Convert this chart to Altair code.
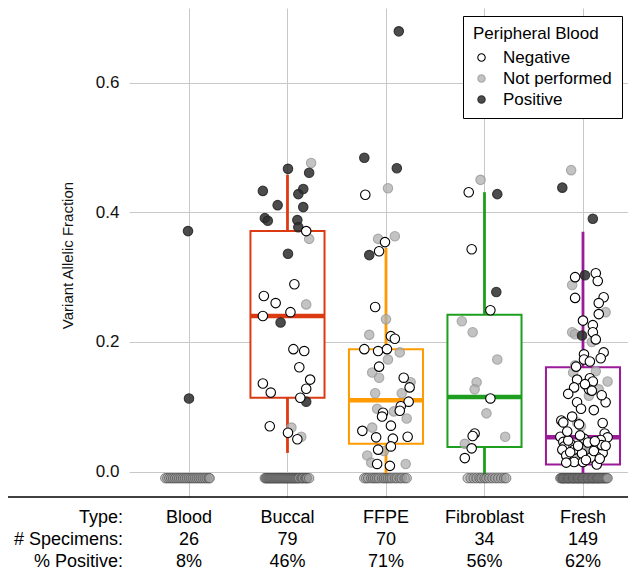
import altair as alt
import pandas as pd

# ---------------- data ----------------
categories = ["Blood", "Buccal", "FFPE", "Fibroblast", "Fresh"]
n_specimens = ["26", "79", "70", "34", "149"]
pct_positive = ["8%", "46%", "71%", "56%", "62%"]
row_labels = ["Type:", "# Specimens:", "% Positive:"]
status_names = ["Negative", "Not performed", "Positive"]

undetected_vaf = -0.01  # specimens with no variant detected

# detected variants: [jitter offset from category centre, VAF]
blood_pos = [[-0.01, 0.371], [0.00, 0.113]]
blood_np = []
blood_neg = []

buccal_pos = [[0.005, 0.467], [0.22, 0.461], [-0.25, 0.433], [0.16, 0.436], [0.11, 0.428],
              [-0.10, 0.411], [0.16, 0.408], [-0.23, 0.391], [-0.20, 0.387], [0.10, 0.388],
              [0.11, 0.377], [0.005, 0.336], [-0.07, 0.230], [0.19, 0.108]]
buccal_np = [[0.24, 0.476], [0.22, 0.359], [0.19, 0.258], [0.04, 0.068], [0.14, 0.054]]
buccal_neg = [[0.19, 0.371], [0.07, 0.289], [-0.24, 0.271], [-0.12, 0.260], [0.03, 0.246],
              [-0.25, 0.240], [0.06, 0.189], [0.17, 0.186], [0.12, 0.161], [0.23, 0.142],
              [-0.25, 0.136], [0.19, 0.128], [-0.17, 0.122], [0.13, 0.114], [-0.18, 0.070],
              [0.005, 0.060], [0.10, 0.050]]

ffpe_pos = [[0.13, 0.679], [-0.22, 0.484], [0.11, 0.468], [-0.17, 0.334]]
ffpe_np = [[0.02, 0.437], [0.09, 0.363], [-0.08, 0.359], [0.00, 0.235], [-0.17, 0.211],
           [0.14, 0.184], [0.02, 0.173], [-0.14, 0.153], [-0.07, 0.145], [0.25, 0.138],
           [-0.11, 0.121], [0.16, 0.121], [-0.09, 0.097], [0.08, 0.093], [0.21, 0.082],
           [-0.14, 0.068], [-0.02, 0.032], [-0.19, 0.025], [-0.15, 0.014], [0.20, 0.012]]
ffpe_neg = [[-0.21, 0.427], [-0.01, 0.354], [-0.07, 0.340], [-0.11, 0.254], [0.05, 0.209],
            [0.09, 0.205], [-0.22, 0.189], [-0.08, 0.186], [0.01, 0.189], [-0.07, 0.162],
            [0.18, 0.145], [0.24, 0.130], [0.23, 0.108], [0.15, 0.101], [0.14, 0.094],
            [-0.03, 0.091], [-0.04, 0.085], [0.05, 0.071], [-0.24, 0.063], [0.22, 0.054],
            [-0.10, 0.053], [0.07, 0.051], [0.05, 0.039], [-0.08, 0.034], [-0.09, 0.012],
            [0.04, 0.009]]

fibro_pos = [[0.13, 0.428], [0.12, 0.277]]
fibro_np = [[-0.04, 0.450], [-0.23, 0.232], [-0.12, 0.215], [0.13, 0.173], [-0.08, 0.138],
            [-0.10, 0.127], [0.02, 0.090], [0.21, 0.054], [-0.20, 0.043]]
fibro_neg = [[-0.16, 0.431], [-0.13, 0.343], [0.06, 0.249], [0.06, 0.113], [-0.10, 0.059],
             [-0.12, 0.055], [-0.13, 0.036], [-0.20, 0.021]]

fresh_pos = [[-0.21, 0.438], [0.10, 0.390], [0.02, 0.303], [-0.01, 0.210]]
fresh_np = [[-0.12, 0.465], [-0.11, 0.288], [0.23, 0.246], [-0.11, 0.215], [-0.08, 0.212],
            [0.09, 0.200], [-0.08, 0.164], [-0.10, 0.153], [0.13, 0.155], [0.25, 0.139],
            [0.16, 0.127], [0.06, 0.117], [-0.06, 0.076], [-0.02, 0.070], [0.00, 0.034],
            [0.07, 0.036], [-0.08, 0.023], [0.04, 0.030], [0.09, 0.026], [0.15, 0.045],
            [-0.04, 0.018]]
fresh_neg = [[0.13, 0.306], [-0.08, 0.300], [0.15, 0.294], [-0.08, 0.268], [0.21, 0.269],
             [0.16, 0.260], [0.16, 0.243], [0.00, 0.233], [0.10, 0.226], [0.10, 0.215],
             [0.13, 0.204], [0.21, 0.184], [0.01, 0.181], [0.01, 0.173], [0.18, 0.175],
             [-0.06, 0.142], [0.07, 0.144], [0.10, 0.139], [-0.09, 0.130], [0.06, 0.127],
             [0.09, 0.125], [-0.06, 0.107], [0.23, 0.107], [-0.02, 0.097], [-0.22, 0.079],
             [-0.20, 0.076], [-0.04, 0.073], [0.22, 0.059], [0.25, 0.053], [-0.23, 0.054],
             [0.01, 0.051], [0.18, 0.049], [-0.20, 0.046], [-0.12, 0.042], [-0.19, 0.039],
             [-0.21, 0.034], [0.15, 0.037], [-0.09, 0.034], [-0.01, 0.028], [0.20, 0.029],
             [-0.17, 0.025], [0.14, 0.023], [0.08, 0.022], [-0.09, 0.015], [-0.17, 0.014],
             [0.00, 0.015], [0.14, 0.011], [-0.15, 0.048], [-0.05, 0.040], [0.05, 0.045],
             [0.11, 0.032], [-0.13, 0.030], [0.17, 0.020], [0.03, 0.018], [0.19, 0.041],
             [-0.03, 0.056], [0.12, 0.047], [-0.16, 0.062], [0.23, 0.040], [-0.07, 0.162],
             [0.07, 0.170], [0.19, 0.118], [0.02, 0.135], [0.11, 0.095], [-0.11, 0.085],
             [0.20, 0.075], [-0.15, 0.120]]

# undetected specimens: jitter offsets (hundredths of a category step)
blood_zero = [-24, -22, -20, -18, -16, -14, -12, -10, -8, -6, -4, -2, 0, 2, 4, 6, 8, 10,
              12, 14, 16, 18, 20, 21]
buccal_zero = [-23, -22, -21, -20, -19, -18, -17, -16, -15, -14, -13, -12, -11, -10, -9,
               -8, -7, -6, -5, -4, -3, -2, -1, 0, 1, 2, 3, 4, 5, 6, 7, 8, 9, 10, 11, 12,
               14, 15, 16, 18, 19, 20, 22]
ffpe_zero = [-22, -20, -18, -15, -13, -11, -9, -7, -4, -2, 0, 2, 4, 6, 9, 11, 14, 16, 19, 21]
fibro_zero = [-17, -14, -11, -8, -5, -3, 0, 2, 5, 8, 11, 14, 17, 20, 22]
fresh_zero = [-23, -22, -21, -20, -20, -19, -18, -17, -16, -15, -15, -14, -13, -12, -11,
              -10, -10, -9, -8, -7, -6, -5, -5, -4, -3, -2, -1, 0, 0, 1, 2, 3, 4, 5, 5,
              6, 7, 8, 9, 10, 10, 11, 12, 13, 14, 15, 15, 16, 17, 18, 19, 20, 21, 22,
              23, 24, 25]

# box-plot statistics (whisker low, Q1, median, Q3, whisker high)
box_cats = ["Buccal", "FFPE", "Fibroblast", "Fresh"]
box_low = [0.029, -0.012, -0.008, -0.010]
box_q1 = [0.114, 0.043, 0.038, 0.011]
box_med = [0.240, 0.110, 0.115, 0.053]
box_q3 = [0.371, 0.189, 0.242, 0.161]
box_high = [0.458, 0.345, 0.431, 0.370]
box_colors = ["#DC3A12", "#FF9A00", "#1E9E1E", "#9A1A9A"]

# ---------------- build tables ----------------
groups = {
    "Blood": (blood_np, blood_pos, blood_neg, blood_zero),
    "Buccal": (buccal_np, buccal_pos, buccal_neg, buccal_zero),
    "FFPE": (ffpe_np, ffpe_pos, ffpe_neg, ffpe_zero),
    "Fibroblast": (fibro_np, fibro_pos, fibro_neg, fibro_zero),
    "Fresh": (fresh_np, fresh_pos, fresh_neg, fresh_zero),
}
pts, zeros = [], []
for ci, cat in enumerate(categories):
    np_, pos, neg, zr = groups[cat]
    for status, lst in (("Not performed", np_), ("Positive", pos), ("Negative", neg)):
        for dx, v in lst:
            pts.append({"x": ci + dx, "vaf": v, "status": status})
    for d in zr:
        zeros.append({"x": ci + d / 100.0, "vaf": undetected_vaf})
pts_df = pd.DataFrame(pts)
zero_df = pd.DataFrame(zeros)

box_df = pd.DataFrame({
    "idx": [categories.index(c) for c in box_cats],
    "lo": box_low, "q1": box_q1, "med": box_med, "q3": box_q3, "hi": box_high,
    "color": box_colors,
})

HALF = 0.376
XDOM = [-0.609, 4.457]
YDOM = [-0.039, 0.715]
W, H = 499, 489


def xenc(field):
    return alt.X(field, scale=alt.Scale(domain=XDOM, nice=False, zero=False),
                 axis=alt.Axis(values=[0, 1, 2, 3, 4], grid=True, labels=False,
                               ticks=False, domain=False, title=None))


def yenc(field):
    return alt.Y(field, scale=alt.Scale(domain=YDOM, nice=False, zero=False),
                 axis=alt.Axis(values=[0, 0.2, 0.4, 0.6], format=".1f", grid=True,
                               ticks=False, tickSize=0, domain=False, labelPadding=10,
                               labelFontSize=17, labelColor="#111111",
                               title="Variant Allelic Fraction", titleFontSize=15,
                               titleFont="Liberation Sans Narrow, Liberation Sans, sans-serif",
                               titleFontWeight="normal", titleColor="#111111",
                               titleX=-62, titleY=247, titleAngle=270,
                               titleBaseline="middle", titleAlign="center"))


base_box = alt.Chart(box_df).transform_calculate(
    xl=f"datum.idx - {HALF}", xr=f"datum.idx + {HALF}")

boxes = base_box.mark_rect(fill="white", strokeWidth=2).encode(
    x=xenc("xl:Q"), x2="xr:Q", y=yenc("q1:Q"), y2="q3:Q",
    stroke=alt.Stroke("color:N", scale=None))
whisk_lo = base_box.mark_rule(strokeWidth=2.8).encode(
    x=xenc("idx:Q"), y=yenc("lo:Q"), y2="q1:Q", stroke=alt.Stroke("color:N", scale=None))
whisk_hi = base_box.mark_rule(strokeWidth=2.8).encode(
    x=xenc("idx:Q"), y=yenc("q3:Q"), y2="hi:Q", stroke=alt.Stroke("color:N", scale=None))
medians = base_box.mark_rule(strokeWidth=4.5).encode(
    x=xenc("xl:Q"), x2="xr:Q", y=yenc("med:Q"), stroke=alt.Stroke("color:N", scale=None))

zero_pts = alt.Chart(zero_df).mark_circle(
    size=90, fill="#9a9a9a", fillOpacity=0.5, stroke="#444444", strokeOpacity=0.6,
    strokeWidth=1, opacity=1).encode(x=xenc("x:Q"), y=yenc("vaf:Q"))

leg = alt.Legend(orient="none", legendX=334, legendY=8, title="Peripheral Blood",
                 titleFontSize=17, titleFontWeight="normal", titleColor="black",
                 titlePadding=6, labelFontSize=17, labelColor="black", labelOffset=13,
                 symbolType="circle", symbolSize=55, symbolStrokeWidth=1.1,
                 rowPadding=3, padding=10, strokeColor="black", fillColor="white",
                 cornerRadius=0)

fill_scale = alt.Scale(domain=status_names,
                       range=["white", "rgba(175,175,175,0.75)", "rgba(45,45,45,0.85)"])
stroke_scale = alt.Scale(domain=status_names,
                         range=["black", "rgba(150,150,150,0.75)", "rgba(35,35,35,0.85)"])

points = alt.Chart(pts_df).mark_circle(size=90, opacity=1, strokeWidth=1.1).encode(
    x=xenc("x:Q"), y=yenc("vaf:Q"),
    fill=alt.Fill("status:N", scale=fill_scale, legend=leg),
    stroke=alt.Stroke("status:N", scale=stroke_scale, legend=leg))

base_rule = alt.Chart(pd.DataFrame({"k": [0]})).mark_rule(
    color="black", strokeWidth=1.5).encode(
    x=alt.value(-121), x2=alt.value(W), y=alt.value(H))

row_y = [510, 532, 554]
table_layers = []
row_values = [categories, n_specimens, pct_positive]
for r in range(3):
    tdf = pd.DataFrame({"idx": list(range(len(categories))), "t": row_values[r]})
    table_layers.append(
        alt.Chart(tdf).mark_text(y=row_y[r], fontSize=18, color="black",
                                 baseline="middle", align="center").encode(
            x=xenc("idx:Q"), text="t:N"))
    table_layers.append(
        alt.Chart(pd.DataFrame({"t": [row_labels[r]]})).mark_text(
            x=-6, y=row_y[r], fontSize=18, color="black", baseline="middle",
            align="right").encode(text="t:N"))

chart = alt.layer(boxes, whisk_lo, whisk_hi, medians, zero_pts, points, base_rule,
                  *table_layers).properties(
    width=W, height=H,
    autosize=alt.AutoSizeParams(type="none"),
    padding={"left": 121, "top": 0, "right": 0, "bottom": 76},
).configure(font="Liberation Sans").configure_view(strokeWidth=0).configure_axis(
    gridColor="#c8c8c8", gridWidth=1)

chart.save("out.html", embed_options={"renderer": "svg", "actions": False})
